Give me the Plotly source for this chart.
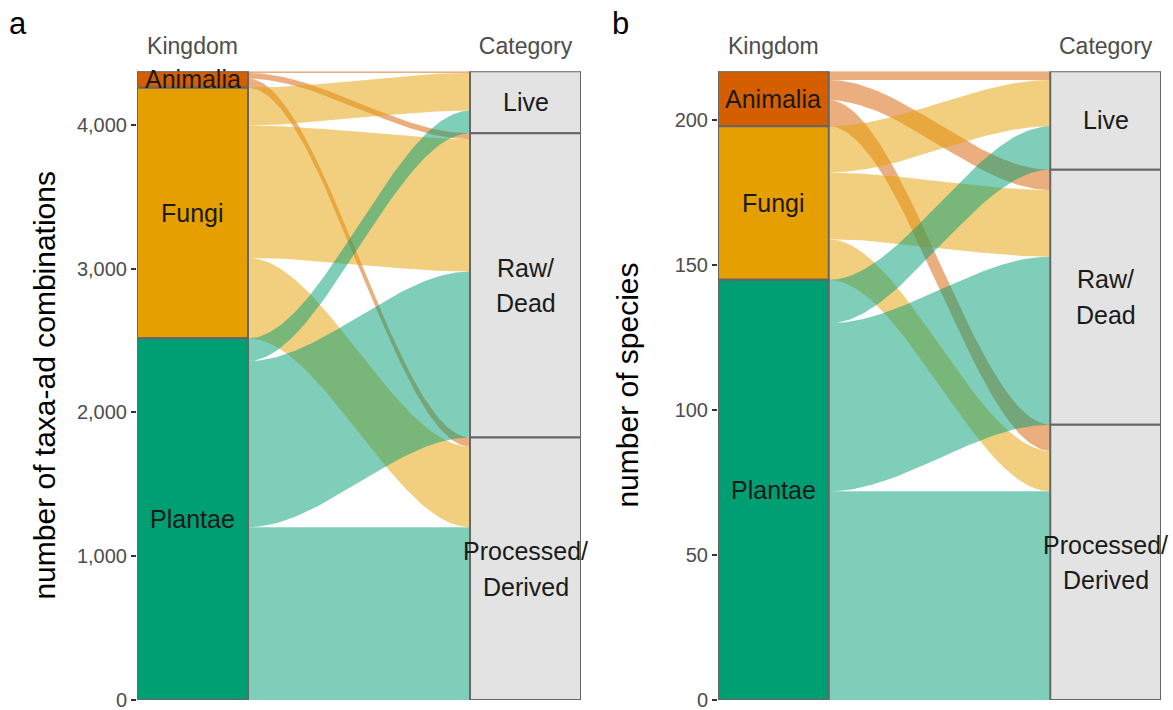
import numpy as np
import plotly.graph_objects as go

# ---------------- data ----------------
kingdoms = ["Animalia", "Fungi", "Plantae"]
categories = ["Live", "Raw/Dead", "Processed/Derived"]
category_lines = [["Live"], ["Raw/", "Dead"], ["Processed/", "Derived"]]

# panel a: number of taxa-ad combinations, per kingdom -> category (Live, Raw/Dead, Processed/Derived)
combos_animalia = [12, 40, 63]
combos_fungi = [262, 921, 560]
combos_plantae = [158, 1155, 1202]

# panel b: number of species
species_animalia = [3, 7, 9]
species_fungi = [16, 23, 14]
species_plantae = [15, 58, 72]

yticks_a = [0, 1000, 2000, 3000, 4000]
ytick_labels_a = ["0", "1,000", "2,000", "3,000", "4,000"]
yticks_b = [0, 50, 100, 150, 200]
ytick_labels_b = ["0", "50", "100", "150", "200"]

axis_labels = ["Kingdom", "Category"]
ytitle_a = "number of taxa-ad combinations"
ytitle_b = "number of species"

# ---------------- style ----------------
kingdom_colors = {"Animalia": "#D55E00", "Fungi": "#E69F00", "Plantae": "#009E73"}
category_fill = "#E3E3E3"
outline = "#666666"
FONT = "Liberation Sans, Arial, sans-serif"
W = 1 / 3  # stratum width
LABEL_SIZE = 25
LINE_GAP = 35.5


def rgba(hexc, a):
    h = hexc.lstrip("#")
    r, g, b = int(h[0:2], 16), int(h[2:4], 16), int(h[4:6], 16)
    return f"rgba({r},{g},{b},{a})"


fig = go.Figure()
annotations = []


def build_panel(flows, xa, ya):
    xr, yr = xa.replace("axis", ""), ya.replace("axis", "")
    total = sum(sum(r) for r in flows)
    left = {}
    top = total
    k_bounds = []
    for ki, row in enumerate(flows):
        kt = top
        for ci, v in enumerate(row):
            left[(ki, ci)] = (top - v, top)
            top -= v
        k_bounds.append((top, kt))
    right = {}
    top = total
    c_bounds = []
    for ci in range(len(categories)):
        ct = top
        for ki in range(len(kingdoms)):
            v = flows[ki][ci]
            right[(ki, ci)] = (top - v, top)
            top -= v
        c_bounds.append((top, ct))

    x0, x1 = 1 + W / 2, 2 - W / 2
    t = np.linspace(0, 1, 80)
    s = 3 * t**2 - 2 * t**3
    xs = x0 + (x1 - x0) * t
    for ki, k in enumerate(kingdoms):
        for ci in range(len(categories)):
            lb, lt = left[(ki, ci)]
            rb, rt = right[(ki, ci)]
            up = lt + (rt - lt) * s
            lo = lb + (rb - lb) * s
            fig.add_trace(go.Scatter(
                x=np.concatenate([xs, xs[::-1]]),
                y=np.concatenate([up, lo[::-1]]),
                fill="toself", fillcolor=rgba(kingdom_colors[k], 0.5),
                line=dict(width=0), mode="lines", hoverinfo="skip",
                showlegend=False, xaxis=xr, yaxis=yr))

    def rect(xc, b, tp, fill):
        fig.add_trace(go.Scatter(
            x=[xc - W / 2, xc + W / 2, xc + W / 2, xc - W / 2, xc - W / 2],
            y=[b, b, tp, tp, b], fill="toself", fillcolor=fill,
            line=dict(color=outline, width=2), mode="lines", hoverinfo="skip",
            showlegend=False, xaxis=xr, yaxis=yr))

    for ki, k in enumerate(kingdoms):
        b, tp = k_bounds[ki]
        rect(1, b, tp, kingdom_colors[k])
        annotations.append(dict(x=1, y=(b + tp) / 2, xref=xr, yref=yr, text=k, showarrow=False,
                                xanchor="center", yanchor="middle",
                                font=dict(family=FONT, size=LABEL_SIZE, color="#1A1A1A")))
    for ci, lines in enumerate(category_lines):
        b, tp = c_bounds[ci]
        rect(2, b, tp, category_fill)
        n = len(lines)
        for li, ln in enumerate(lines):
            annotations.append(dict(x=2, y=(b + tp) / 2, xref=xr, yref=yr, text=ln, showarrow=False,
                                    xanchor="center", yanchor="middle",
                                    yshift=(n - 1) / 2 * LINE_GAP - li * LINE_GAP,
                                    font=dict(family=FONT, size=LABEL_SIZE, color="#1A1A1A")))
    return total


tot_a = build_panel([combos_animalia, combos_fungi, combos_plantae], "xaxis", "yaxis")
tot_b = build_panel([species_animalia, species_fungi, species_plantae], "xaxis2", "yaxis2")

FW, RH = 1173, 710          # reference frame for placement
FH = 723                    # rendered height (photo is scaled vertically to 710)
ydom = [(RH - 698) / RH, (RH - 71) / RH]
xdom_a = [137 / FW, 581 / FW]
xdom_b = [718 / FW, 1161 / FW]

xcommon = dict(range=[1 - W / 2, 2 + W / 2], tickvals=[1, 2], ticktext=axis_labels, side="top",
               ticks="outside", ticklen=7, tickcolor="rgba(0,0,0,0)", showgrid=False, zeroline=False,
               showline=False, tickfont=dict(family=FONT, size=23, color="#4D4D4D"), fixedrange=True)
ycommon = dict(showgrid=False, zeroline=False, showline=False, ticks="outside", ticklen=5,
               tickwidth=1.5, tickcolor="#333333", tickfont=dict(family=FONT, size=20, color="#4D4D4D"))

fig.update_layout(
    width=FW, height=FH, margin=dict(l=0, r=0, t=0, b=0),
    paper_bgcolor="white", plot_bgcolor="white", showlegend=False,
    xaxis=dict(domain=xdom_a, anchor="y", **xcommon),
    yaxis=dict(domain=ydom, anchor="x", range=[0, tot_a], tickvals=yticks_a, ticktext=ytick_labels_a, **ycommon),
    xaxis2=dict(domain=xdom_b, anchor="y2", **xcommon),
    yaxis2=dict(domain=ydom, anchor="x2", range=[0, tot_b], tickvals=yticks_b, ticktext=ytick_labels_b, **ycommon),
)

ymid = ydom[0] + (ydom[1] - ydom[0]) / 2
annotations += [
    dict(x=45 / FW, y=ymid, xref="paper", yref="paper", text=ytitle_a, textangle=-90, showarrow=False,
         xanchor="center", yanchor="middle", font=dict(family=FONT, size=30, color="black")),
    dict(x=628 / FW, y=ymid, xref="paper", yref="paper", text=ytitle_b, textangle=-90, showarrow=False,
         xanchor="center", yanchor="middle", font=dict(family=FONT, size=30, color="black")),
    dict(x=18 / FW, y=1 - 23 / RH, xref="paper", yref="paper", text="a", showarrow=False,
         xanchor="center", yanchor="middle", font=dict(family=FONT, size=31, color="black")),
    dict(x=620 / FW, y=1 - 23 / RH, xref="paper", yref="paper", text="b", showarrow=False,
         xanchor="center", yanchor="middle", font=dict(family=FONT, size=31, color="black")),
]
fig.update_layout(annotations=annotations)

fig.write_html("out.html", config={"displayModeBar": False},
               post_script="document.body.style.margin='0';document.body.style.overflow='hidden';")
